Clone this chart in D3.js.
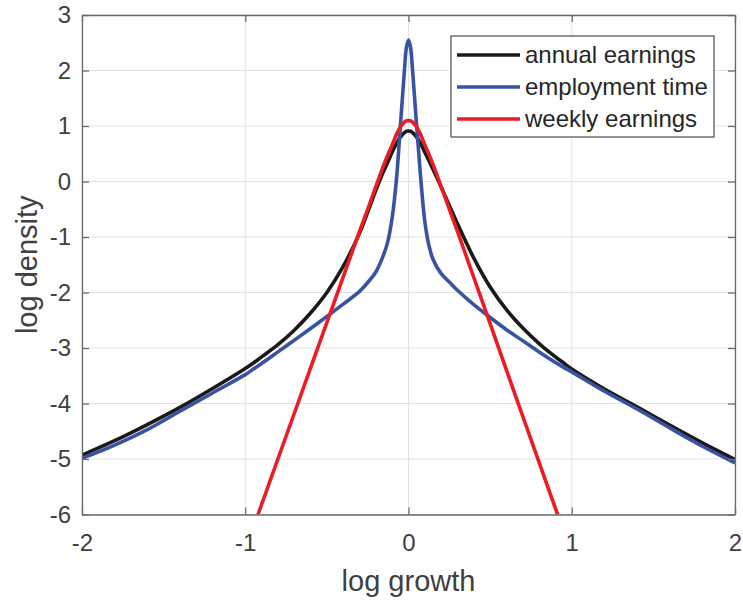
<!DOCTYPE html>
<html>
<head>
<meta charset="utf-8">
<script src="https://cdn.jsdelivr.net/npm/d3@7"></script>
<style>
  html, body { margin: 0; padding: 0; background: #fff; }
  svg { display: block; font-family: "Liberation Sans", Arial, sans-serif; }
</style>
</head>
<body>
<svg id="chart" width="743" height="605"></svg>
<script>
// Log growth grid shared by all three densities
const growth = [-2, -1.8, -1.6, -1.4, -1.2, -1, -0.95, -0.9, -0.8, -0.7, -0.6, -0.5, -0.4, -0.3,
  -0.25, -0.2, -0.15, -0.125, -0.1, -0.075, -0.05, -0.025, -0.0125, 0, 0.0125, 0.025, 0.05, 0.075,
  0.1, 0.125, 0.15, 0.2, 0.25, 0.3, 0.4, 0.5, 0.6, 0.7, 0.8, 0.9, 0.95, 1, 1.2, 1.4, 1.6, 1.8, 2];

// Log densities (null = off the chart)
const annualEarnings = [-4.93, -4.67, -4.38, -4.07, -3.73, -3.37, -3.27, -3.16, -2.94, -2.68, -2.37, -2.0, -1.53, -0.93,
  -0.55, -0.16, 0.2, 0.36, 0.53, 0.68, 0.8, 0.88, 0.905, 0.91, 0.905, 0.88, 0.8, 0.68,
  0.53, 0.38, 0.22, -0.1, -0.43, -0.76, -1.38, -1.9, -2.31, -2.64, -2.92, -3.16, -3.27, -3.38, -3.74, -4.06, -4.39, -4.71, -5.01];

const employmentTime = [-4.99, -4.75, -4.47, -4.14, -3.81, -3.48, -3.38, -3.28, -3.07, -2.86, -2.65, -2.43, -2.21, -1.98,
  -1.82, -1.63, -1.3, -1.06, -0.65, 0.0, 0.99, 2.0, 2.42, 2.55, 2.42, 2.0, 1.0, 0.05,
  -0.72, -1.15, -1.4, -1.66, -1.81, -1.96, -2.22, -2.45, -2.67, -2.87, -3.07, -3.26, -3.35, -3.43, -3.78, -4.1, -4.44, -4.77, -5.07];

const weeklyEarnings = [null, null, null, null, null, null, -6.23, -5.82, -5.0, -4.18, -3.36, -2.54, -1.72, -0.9,
  -0.5, -0.09, 0.31, 0.49, 0.66, 0.84, 0.98, 1.07, 1.095, 1.1, 1.095, 1.07, 0.98, 0.84,
  0.66, 0.49, 0.31, -0.09, -0.5, -0.9, -1.73, -2.56, -3.4, -4.23, -5.06, -5.89, -6.3, null, null, null, null, null, null];

const seriesNames = ["annual earnings", "employment time", "weekly earnings"];
const seriesColors = ["#1a1a1a", "#3853a4", "#ed1c24"];
const seriesValues = [annualEarnings, employmentTime, weeklyEarnings];

const xTicks = [-2, -1, 0, 1, 2];
const yTicks = [3, 2, 1, 0, -1, -2, -3, -4, -5, -6];

const svg = d3.select("#chart");
const plot = { left: 82, right: 735, top: 15, bottom: 514.5 };

const x = d3.scaleLinear().domain([-2, 2]).range([plot.left, plot.right]);
const y = d3.scaleLinear().domain([-6, 3]).range([plot.bottom, plot.top]);

const axisColor = "#6b6b6b";
const textColor = "#404040";
const fmt = d => d < 0 ? "-" + Math.abs(d) : String(d);

// Grid
const grid = svg.append("g");
grid.selectAll("line.gx").data(xTicks).join("line")
  .attr("x1", d => x(d)).attr("x2", d => x(d))
  .attr("y1", plot.top).attr("y2", plot.bottom)
  .attr("stroke", "#e3e3e3").attr("stroke-width", 1);
grid.selectAll("line.gy").data(yTicks).join("line")
  .attr("y1", d => y(d)).attr("y2", d => y(d))
  .attr("x1", plot.left).attr("x2", plot.right)
  .attr("stroke", "#e3e3e3").attr("stroke-width", 1);

// Curves
svg.append("clipPath").attr("id", "clip").append("rect")
  .attr("x", plot.left).attr("y", plot.top)
  .attr("width", plot.right - plot.left).attr("height", plot.bottom - plot.top);

const line = d3.line()
  .defined(d => d[1] !== null)
  .x(d => x(d[0])).y(d => y(d[1]))
  .curve(d3.curveCatmullRom.alpha(0.5));

const curves = svg.append("g").attr("clip-path", "url(#clip)");
seriesValues.forEach((vals, i) => {
  curves.append("path")
    .datum(growth.map((g, k) => [g, vals[k]]))
    .attr("fill", "none")
    .attr("stroke", seriesColors[i])
    .attr("stroke-width", 3.6)
    .attr("stroke-linejoin", "round")
    .attr("d", line);
});

// Axes: ticks point inward on all four sides, forming a box
const tickLen = 7;
const axisG = svg.append("g");
axisG.append("g").attr("class", "labelled").attr("transform", `translate(0,${plot.bottom})`)
  .call(d3.axisBottom(x).tickValues(xTicks).tickSizeInner(-tickLen).tickSizeOuter(0).tickPadding(19).tickFormat(fmt));
axisG.append("g").attr("class", "bare").attr("transform", `translate(0,${plot.top})`)
  .call(d3.axisTop(x).tickValues(xTicks).tickSizeInner(-tickLen).tickSizeOuter(0));
axisG.append("g").attr("class", "labelled").attr("transform", `translate(${plot.left},0)`)
  .call(d3.axisLeft(y).tickValues(yTicks).tickSizeInner(-tickLen).tickSizeOuter(0).tickPadding(11).tickFormat(fmt));
axisG.append("g").attr("class", "bare").attr("transform", `translate(${plot.right},0)`)
  .call(d3.axisRight(y).tickValues(yTicks).tickSizeInner(-tickLen).tickSizeOuter(0));
axisG.selectAll(".bare .tick text").remove();
axisG.selectAll(".domain").attr("stroke", axisColor).attr("stroke-width", 1.3);
axisG.selectAll(".tick line").attr("stroke", axisColor).attr("stroke-width", 1.3);
axisG.selectAll(".labelled .tick text").attr("fill", textColor).attr("font-size", 24)
  .attr("font-family", "'Liberation Sans', Arial, sans-serif");

// Axis titles
svg.append("text")
  .attr("x", (plot.left + plot.right) / 2).attr("y", 591)
  .attr("text-anchor", "middle").attr("fill", textColor).attr("font-size", 29)
  .text("log growth");
svg.append("text")
  .attr("transform", `translate(37,${(plot.top + plot.bottom) / 2}) rotate(-90)`)
  .attr("text-anchor", "middle").attr("fill", textColor).attr("font-size", 29)
  .text("log density");

// Legend
const legend = svg.append("g");
legend.append("rect")
  .attr("x", 451).attr("y", 36).attr("width", 263).attr("height", 101)
  .attr("fill", "#fff").attr("stroke", "#4d4d4d").attr("stroke-width", 1.2);
seriesNames.forEach((name, i) => {
  const cy = 55 + i * 32;
  legend.append("line")
    .attr("x1", 457).attr("x2", 520).attr("y1", cy).attr("y2", cy)
    .attr("stroke", seriesColors[i]).attr("stroke-width", 3.6);
  legend.append("text")
    .attr("x", 525).attr("y", cy).attr("dy", "0.35em")
    .attr("fill", "#262626").attr("font-size", 24)
    .text(name);
});
</script>
</body>
</html>
